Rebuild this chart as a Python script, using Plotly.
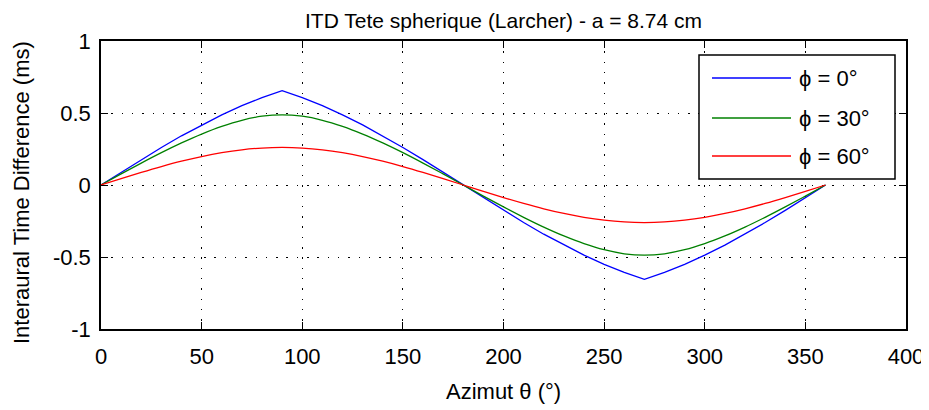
import plotly.graph_objects as go

azimut = [0, 10, 20, 30, 40, 50, 60, 70, 80, 90, 100, 110, 120, 130, 140, 150, 160, 170, 180,
          190, 200, 210, 220, 230, 240, 250, 260, 270, 280, 290, 300, 310, 320, 330, 340, 350, 360]

itd_phi0 = [0, 0.0887, 0.1761, 0.2608, 0.3417, 0.4175, 0.4875, 0.5507, 0.6067, 0.6550,
            0.6067, 0.5507, 0.4875, 0.4175, 0.3417, 0.2608, 0.1761, 0.0887, 0,
            -0.0887, -0.1761, -0.2608, -0.3417, -0.4175, -0.4875, -0.5507, -0.6067, -0.6550,
            -0.6067, -0.5507, -0.4875, -0.4175, -0.3417, -0.2608, -0.1761, -0.0887, 0]

itd_phi30 = [0, 0.0768, 0.1521, 0.2244, 0.2923, 0.3539, 0.4072, 0.4496, 0.4776, 0.4875,
             0.4776, 0.4496, 0.4072, 0.3539, 0.2923, 0.2244, 0.1521, 0.0768, 0,
             -0.0768, -0.1521, -0.2244, -0.2923, -0.3539, -0.4072, -0.4496, -0.4776, -0.4875,
             -0.4776, -0.4496, -0.4072, -0.3539, -0.2923, -0.2244, -0.1521, -0.0768, 0]

itd_phi60 = [0, 0.0443, 0.0874, 0.1281, 0.1653, 0.1977, 0.2244, 0.2443, 0.2566, 0.2608,
             0.2566, 0.2443, 0.2244, 0.1977, 0.1653, 0.1281, 0.0874, 0.0443, 0,
             -0.0443, -0.0874, -0.1281, -0.1653, -0.1977, -0.2244, -0.2443, -0.2566, -0.2608,
             -0.2566, -0.2443, -0.2244, -0.1977, -0.1653, -0.1281, -0.0874, -0.0443, 0]

series_names = ["\u03d5 = 0\u00b0", "\u03d5 = 30\u00b0", "\u03d5 = 60\u00b0"]
series_values = [itd_phi0, itd_phi30, itd_phi60]
series_colors = ["#0000ff", "#008000", "#ff0000"]
series_shapes = ["linear", "spline", "spline"]

x_ticks = [0, 50, 100, 150, 200, 250, 300, 350, 400]
y_ticks = [-1, -0.5, 0, 0.5, 1]
y_ticklabels = ["-1", "-0.5", "0", "0.5", "1"]

FONT = "Liberation Sans, Arial, Helvetica, sans-serif"
FS = 22

# page offset (default body margin of the html page)
OFF = 8
W, H = 929 - OFF, 410 - OFF
# plot area in page pixels: x 101..906, y 41..329
PL, PR, PT, PB = 101, 906, 41, 329
ML, MT = PL - OFF, PT - OFF
MR, MB = W - (PR - OFF), H - (PB - OFF)
PW, PH = PR - PL, PB - PT


def px(x):
    return (x - PL) / PW


def py(y):
    return 1 - (y - PT) / PH


fig = go.Figure()
for name, vals, col, shp in zip(series_names, series_values, series_colors, series_shapes):
    fig.add_trace(go.Scatter(x=azimut, y=vals, mode="lines", name=name,
                             line=dict(color=col, width=1.3, shape=shp),
                             showlegend=False))

axis_common = dict(
    showline=True, linecolor="black", linewidth=1.5, mirror="ticks",
    ticks="inside", ticklen=7, tickwidth=1, tickcolor="black",
    showgrid=True, gridcolor="black", gridwidth=1, griddash="1.5px,8.8px",
    zeroline=False, tickfont=dict(family=FONT, size=FS, color="black"),
    automargin=False,
)

fig.update_xaxes(range=[0, 400], tickvals=x_ticks, ticktext=[str(v) for v in x_ticks],
                 ticklabelstandoff=7, **axis_common)
fig.update_yaxes(range=[-1, 1], tickvals=y_ticks, ticktext=y_ticklabels,
                 ticklabelstandoff=4, **axis_common)

# Legend box drawn manually (MATLAB style)
shapes = [dict(type="rect", xref="paper", yref="paper",
               x0=px(699), x1=px(895), y0=py(179), y1=py(55),
               line=dict(color="black", width=1.5), fillcolor="white", layer="above")]
annotations = []
legend_y = [78, 118, 156]
for name, col, ly in zip(series_names, series_colors, legend_y):
    shapes.append(dict(type="line", xref="paper", yref="paper",
                       x0=px(712), x1=px(791), y0=py(ly), y1=py(ly),
                       line=dict(color=col, width=1.3), layer="above"))
    annotations.append(dict(xref="paper", yref="paper", x=px(797), y=py(ly),
                            text=name, showarrow=False, xanchor="left", yanchor="middle",
                            font=dict(family=FONT, size=FS, color="black")))

# axis titles
annotations.append(dict(xref="paper", yref="paper", x=px((PL + PR) / 2), y=py(391),
                        text="Azimut \u03b8 (\u00b0)", showarrow=False,
                        xanchor="center", yanchor="middle",
                        font=dict(family=FONT, size=FS, color="black")))
annotations.append(dict(xref="paper", yref="paper", x=px(21), y=py(193),
                        text="Interaural Time Difference (ms)", showarrow=False,
                        textangle=-90, xanchor="center", yanchor="middle",
                        font=dict(family=FONT, size=FS, color="black")))
annotations.append(dict(xref="paper", yref="paper", x=px((PL + PR) / 2), y=py(OFF),
                        text="ITD Tete spherique (Larcher) - a = 8.74 cm", showarrow=False,
                        xanchor="center", yanchor="top", borderpad=0,
                        font=dict(family=FONT, size=21, color="black")))

fig.update_layout(
    width=W, height=H,
    margin=dict(l=ML, r=MR, t=MT, b=MB),
    paper_bgcolor="white", plot_bgcolor="white",
    shapes=shapes, annotations=annotations,
    showlegend=False,
)

fig.write_html("out.html")
